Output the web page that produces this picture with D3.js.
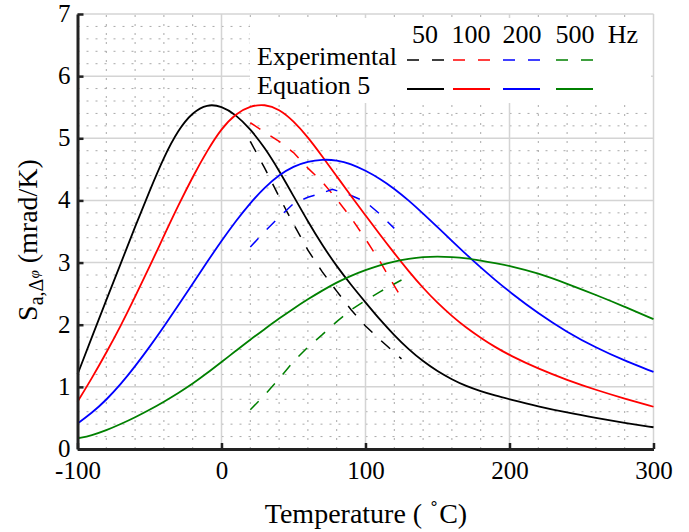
<!DOCTYPE html>
<html>
<head>
<meta charset="utf-8">
<script src="https://cdn.jsdelivr.net/npm/d3@7"></script>
<style>
  body { margin: 0; background: #fff; }
  text { font-family: "Liberation Serif", "Times New Roman", serif; fill: #000; }
  .grid-major line { stroke: #d4d4d4; stroke-width: 1.5; }
  .grid-minor line { stroke: #a8a8a8; stroke-width: 1; stroke-dasharray: 2,7; }
  .curve { fill: none; stroke-width: 1.8; }
  .exp { fill: none; stroke-width: 1.5; stroke-dasharray: 12,12; }
</style>
</head>
<body>
<svg id="chart" width="689" height="532"></svg>
<script>
var freqs = ["50", "100", "200", "500"];
var colors = ["#000000", "#ff0000", "#0000ff", "#008000"];

// Equation 5 curves (temperature in C, S in mrad/K)
var eqTemps = [-100, -90, -80, -70, -60, -50, -40, -30, -20, -10, 0, 10, 20, 30, 40, 50, 60, 70, 80, 90, 100,
               110, 120, 130, 140, 150, 160, 170, 180, 190, 200, 220, 240, 260, 280, 300];
var eq50  = [1.20, 1.80, 2.40, 2.98, 3.58, 4.15, 4.70, 5.14, 5.42, 5.55, 5.52, 5.38, 5.15, 4.85, 4.48, 4.07,
             3.66, 3.28, 2.94, 2.64, 2.36, 2.08, 1.83, 1.60, 1.41, 1.25, 1.12, 1.01, 0.93, 0.86, 0.80,
             0.685, 0.585, 0.50, 0.42, 0.35];
var eq100 = [0.76, 1.14, 1.55, 1.98, 2.45, 2.93, 3.43, 3.92, 4.38, 4.80, 5.16, 5.40, 5.52, 5.55, 5.47, 5.28,
             5.02, 4.71, 4.39, 4.07, 3.76, 3.45, 3.15, 2.86, 2.59, 2.35, 2.14, 1.95, 1.79, 1.64, 1.51,
             1.29, 1.11, 0.95, 0.81, 0.68];
var eq200 = [0.41, 0.58, 0.79, 1.04, 1.33, 1.64, 1.97, 2.31, 2.66, 3.01, 3.35, 3.67, 3.96, 4.21, 4.41, 4.55,
             4.63, 4.66, 4.65, 4.59, 4.48, 4.35, 4.19, 4.00, 3.79, 3.57, 3.35, 3.13, 2.92, 2.72, 2.53,
             2.18, 1.88, 1.63, 1.42, 1.24];
var eq500 = [0.17, 0.22, 0.30, 0.40, 0.51, 0.63, 0.76, 0.90, 1.05, 1.22, 1.40, 1.58, 1.76, 1.93, 2.10, 2.26,
             2.41, 2.55, 2.68, 2.79, 2.88, 2.96, 3.02, 3.06, 3.09, 3.10, 3.09, 3.07, 3.03, 2.99, 2.95,
             2.83, 2.66, 2.48, 2.29, 2.09];

// Experimental curves
var expTemps = [20, 30, 40, 50, 60, 70, 80, 90, 100, 110, 125];
var exp50  = [4.95, 4.52, 4.06, 3.62, 3.20, 2.85, 2.54, 2.24, 1.98, 1.76, 1.45];
var exp100 = [5.25, 5.10, 4.95, 4.77, 4.52, 4.30, 4.02, 3.72, 3.38, 3.02, 2.43];
var exp200Temps = [20, 30, 40, 50, 60, 70, 77, 90, 100, 110, 120];
var exp200 = [3.25, 3.50, 3.73, 3.95, 4.05, 4.12, 4.18, 4.08, 3.98, 3.78, 3.55];
var exp500 = [0.63, 0.87, 1.13, 1.41, 1.64, 1.84, 2.05, 2.24, 2.39, 2.53, 2.72];

var xTicks = [-100, 0, 100, 200, 300];
var yTicks = [0, 1, 2, 3, 4, 5, 6, 7];

var svg = d3.select("#chart");
var x = d3.scaleLinear().domain([-100, 300]).range([77.5, 653.5]);
var y = d3.scaleLinear().domain([0, 7]).range([449, 14]);

// minor grid
var gMinor = svg.append("g").attr("class", "grid-minor");
gMinor.selectAll(".vx").data(d3.range(-80, 300, 20).filter(function(d){ return d % 100 != 0; }))
  .enter().append("line")
  .attr("x1", function(d){ return x(d); }).attr("x2", function(d){ return x(d); })
  .attr("y1", y(0)).attr("y2", y(7));
gMinor.selectAll(".hy").data(d3.range(1, 35).map(function(i){ return i / 5; }).filter(function(d){ return Math.abs(d - Math.round(d)) > 0.01; }))
  .enter().append("line")
  .attr("x1", x(-100)).attr("x2", x(300))
  .attr("y1", function(d){ return y(d); }).attr("y2", function(d){ return y(d); });

// major grid
var gMajor = svg.append("g").attr("class", "grid-major");
gMajor.selectAll(".vx").data(xTicks.slice(1))
  .enter().append("line")
  .attr("x1", function(d){ return x(d); }).attr("x2", function(d){ return x(d); })
  .attr("y1", y(0)).attr("y2", y(7));
gMajor.selectAll(".hy").data(yTicks.slice(1))
  .enter().append("line")
  .attr("x1", x(-100)).attr("x2", x(300))
  .attr("y1", function(d){ return y(d); }).attr("y2", function(d){ return y(d); });

// legend box (white, covers grid)
svg.append("rect").attr("x", 250).attr("y", 18).attr("width", 401).attr("height", 85).attr("fill", "#fff");

function series(temps, vals){
  return temps.map(function(t, i){ return [t, vals[i]]; });
}
var line = d3.line()
  .x(function(d){ return x(d[0]); })
  .y(function(d){ return y(d[1]); })
  .curve(d3.curveBasis);
var lineExp = d3.line()
  .x(function(d){ return x(d[0]); })
  .y(function(d){ return y(d[1]); })
  .curve(d3.curveLinear);

var eqData = [eq50, eq100, eq200, eq500];
var expData = [series(expTemps, exp50), series(expTemps, exp100), series(exp200Temps, exp200), series(expTemps, exp500)];

svg.append("g").selectAll("path").data(expData).enter().append("path")
  .attr("class", "exp")
  .attr("stroke", function(d, i){ return colors[i]; })
  .attr("d", lineExp);

svg.append("g").selectAll("path").data(eqData).enter().append("path")
  .attr("class", "curve")
  .attr("stroke", function(d, i){ return colors[i]; })
  .attr("d", function(d){ return line(series(eqTemps, d)); });

// axes
var xAxis = svg.append("g").attr("transform", "translate(0," + y(0) + ")")
  .call(d3.axisBottom(x).tickValues(xTicks).tickSizeInner(-6).tickSizeOuter(0).tickPadding(12)
    .tickFormat(function(d){ return d; }));
var yAxis = svg.append("g").attr("transform", "translate(" + x(-100) + ",0)")
  .call(d3.axisLeft(y).tickValues(yTicks).tickSizeInner(-6).tickSizeOuter(0).tickPadding(7)
    .tickFormat(d3.format("d")));
[xAxis, yAxis].forEach(function(a){
  a.select(".domain").attr("stroke", "#222").attr("stroke-width", 3);
  a.selectAll(".tick line").attr("stroke", "#222").attr("stroke-width", 2.5);
  a.selectAll(".tick text").attr("font-size", 25).attr("font-family", "Liberation Serif").attr("fill", "#111");
});
yAxis.selectAll(".tick text").attr("dy", "0.3em");

// axis titles
var xt = svg.append("text").attr("x", 366).attr("y", 523).attr("text-anchor", "middle").attr("font-size", 28);
xt.append("tspan").text("Temperature ( ");
xt.append("tspan").attr("font-size", 16).attr("dy", -14).text("\u2218");
xt.append("tspan").attr("dy", 14).text("C)");

var yt = svg.append("text").attr("transform", "translate(37,240) rotate(-90)")
  .attr("text-anchor", "middle").attr("font-size", 28);
yt.append("tspan").text("S");
yt.append("tspan").attr("font-size", 20).attr("dy", 6).text("a,\u0394");
yt.append("tspan").attr("font-size", 15).attr("dy", -4).attr("font-style", "italic").text("\u03c6");
yt.append("tspan").attr("dy", -2).text(" (mrad/K)");

// legend
var legX = [425, 471, 522, 575];
var sampleX = [[407, 444], [453, 490], [503, 540], [556, 593]];
svg.append("g").selectAll("text").data(freqs).enter().append("text")
  .attr("x", function(d, i){ return legX[i]; }).attr("y", 43)
  .attr("text-anchor", "middle").attr("font-size", 26).text(function(d){ return d; });
svg.append("text").attr("x", 623).attr("y", 43).attr("text-anchor", "middle").attr("font-size", 26).text("Hz");
svg.append("text").attr("x", 257).attr("y", 65).attr("font-size", 26).text("Experimental");
svg.append("text").attr("x", 257).attr("y", 94).attr("font-size", 26).text("Equation 5");

var leg = svg.append("g");
leg.selectAll(".le").data(colors).enter().append("line")
  .attr("x1", function(d, i){ return sampleX[i][0]; }).attr("x2", function(d, i){ return sampleX[i][1]; })
  .attr("y1", 60).attr("y2", 60)
  .attr("stroke", function(d){ return d; }).attr("stroke-width", 1.5).attr("stroke-dasharray", "12,13");
leg.selectAll(".lq").data(colors).enter().append("line")
  .attr("x1", function(d, i){ return sampleX[i][0]; }).attr("x2", function(d, i){ return sampleX[i][1]; })
  .attr("y1", 89).attr("y2", 89)
  .attr("stroke", function(d){ return d; }).attr("stroke-width", 2);
</script>
</body>
</html>
